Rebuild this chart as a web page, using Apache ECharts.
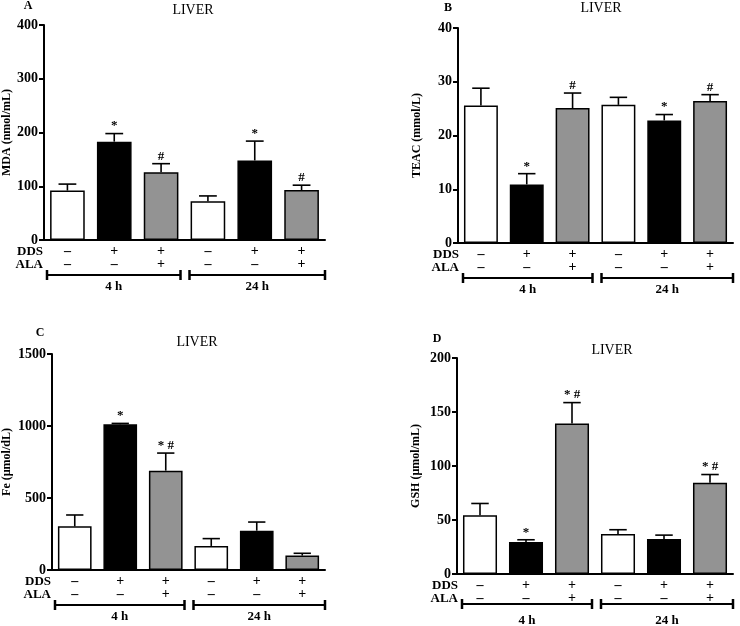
<!DOCTYPE html>
<html>
<head>
<meta charset="utf-8">
<script src="https://cdn.jsdelivr.net/npm/echarts@6/dist/echarts.min.js"></script>
<style>
html, body { margin: 0; padding: 0; background: #fff; }
#main { width: 740px; height: 626px; }
</style>
</head>
<body>
<div id="main"></div>
<script>
// treatment rows under each bar
var dds = ['–', '+', '+', '–', '+', '+'];
var ala = ['–', '–', '+', '–', '–', '+'];
var groups = ['4 h', '24 h'];
var fills = ['#ffffff', '#000000', '#939393', '#ffffff', '#000000', '#939393'];

// A: MDA
var mdaMean = [92, 183, 126, 72, 148, 93];
var mdaTop = [104, 198, 142, 82, 184, 102];
var mdaSig = ['', '*', '#', '', '*', '#'];
var mdaTicks = [0, 100, 200, 300, 400];
// B: TEAC
var teacMean = [25.6, 10.9, 25.1, 25.7, 22.8, 26.4];
var teacTop = [28.8, 12.9, 27.9, 27.1, 23.9, 27.6];
var teacSig = ['', '*', '#', '', '*', '#'];
var teacTicks = [0, 10, 20, 30, 40];
// C: Fe
var feMean = [303, 1012, 690, 167, 273, 100];
var feTop = [382, 1018, 812, 218, 333, 116];
var feSig = ['', '*', '* #', '', '', ''];
var feTicks = [0, 500, 1000, 1500];
// D: GSH
var gshMean = [54.5, 29.6, 139.3, 37, 32.4, 84.4];
var gshTop = [65.3, 31.7, 158.7, 41, 36, 92.1];
var gshSig = ['', '*', '* #', '', '', '* #'];
var gshTicks = [0, 50, 100, 150, 200];

var FONT = '"Liberation Serif", "DejaVu Serif", serif';

var panels = [
  {letter: 'A', name: 'MDA (nmol/mL)', mean: mdaMean, top: mdaTop, sig: mdaSig, ticks: mdaTicks,
   left: 42, y: 25, w: 283, h: 215, nameGap: 31, titleX: 193, titleY: 10, letterX: 28, letterY: 6, br: 35, tick: 14},
  {letter: 'B', name: 'TEAC (mmol/L)', mean: teacMean, top: teacTop, sig: teacSig, ticks: teacTicks,
   left: 458, y: 28, w: 275, h: 215, nameGap: 35, titleX: 601, titleY: 8, letterX: 448, letterY: 8, br: 35, tick: 14},
  {letter: 'C', name: 'Fe (µmol/dL)', mean: feMean, top: feTop, sig: feSig, ticks: feTicks,
   left: 50, y: 354, w: 275, h: 216, nameGap: 39, titleX: 197, titleY: 342, letterX: 40, letterY: 333, br: 35, tick: 14},
  {letter: 'D', name: 'GSH (µmol/mL)', mean: gshMean, top: gshTop, sig: gshSig, ticks: gshTicks,
   left: 457, y: 358, w: 276, h: 216, nameGap: 35, titleX: 612, titleY: 350, letterX: 437, letterY: 339, br: 30, tick: 14}
];

var cats = dds.map(function (d, i) { return d + '\n' + ala[i]; });

function errRender(sig) {
  return function (params, api) {
    var x = api.value(0);
    var base = api.coord([x, api.value(1)]);
    var end = api.coord([x, api.value(2)]);
    var half = api.size([1, 0])[0] * 0.19;
    var kids = [
      {type: 'line', shape: {x1: base[0], y1: base[1], x2: end[0], y2: end[1]}, style: {stroke: '#000', lineWidth: 1.6}},
      {type: 'line', shape: {x1: end[0] - half, y1: end[1], x2: end[0] + half, y2: end[1]}, style: {stroke: '#000', lineWidth: 1.6}}
    ];
    var s = sig[params.dataIndex];
    if (s) {
      kids.push({type: 'text', x: end[0], y: end[1] - 1,
        style: {text: s, align: 'center', verticalAlign: 'bottom', font: 'bold 13px ' + FONT, fill: '#000'}});
    }
    return {type: 'group', children: kids};
  };
}

var grid = [], xAxis = [], yAxis = [], series = [], graphic = [];

panels.forEach(function (p, k) {
  var t = p.ticks;
  grid.push({left: p.left, top: p.y, width: p.w, height: p.h});
  xAxis.push({
    type: 'category', gridIndex: k, data: cats,
    axisLine: {lineStyle: {color: '#000', width: 2}},
    axisTick: {show: false},
    axisLabel: {color: '#000', fontFamily: FONT, fontWeight: 'bold', fontSize: 14, lineHeight: 13, margin: 5, interval: 0}
  });
  yAxis.push({
    type: 'value', gridIndex: k, min: t[0], max: t[t.length - 1], interval: t[1] - t[0],
    name: p.name, nameLocation: 'middle', nameGap: p.nameGap,
    nameTextStyle: {color: '#000', fontFamily: FONT, fontWeight: 'bold', fontSize: 12},
    axisLine: {show: true, lineStyle: {color: '#000', width: 2}},
    axisTick: {show: true, length: 5, lineStyle: {color: '#000', width: 2}},
    axisLabel: {color: '#000', fontFamily: FONT, fontWeight: 'bold', fontSize: p.tick, margin: 6,
      formatter: function (v) { return String(v); }},
    splitLine: {show: false}
  });
  series.push({
    type: 'bar', xAxisIndex: k, yAxisIndex: k, barCategoryGap: '26%',
    data: p.mean.map(function (v, i) {
      return {value: v, itemStyle: {color: fills[i], borderColor: '#000', borderWidth: 1.5}};
    }),
    z: 2
  });
  series.push({
    type: 'custom', xAxisIndex: k, yAxisIndex: k,
    renderItem: errRender(p.sig),
    data: p.mean.map(function (v, i) { return [i, v, p.top[i]]; }),
    z: 3
  });

  // panel letter and title
  graphic.push({type: 'text', x: p.letterX, y: p.letterY,
    style: {text: p.letter, font: 'bold 12px ' + FONT, fill: '#000', align: 'center', verticalAlign: 'middle'}});
  graphic.push({type: 'text', x: p.titleX, y: p.titleY,
    style: {text: 'LIVER', font: '14px ' + FONT, fill: '#000', align: 'center', verticalAlign: 'middle'}});

  // row labels
  var base = p.y + p.h;
  graphic.push({type: 'text', x: p.left + 1, y: base + 12,
    style: {text: 'DDS', font: 'bold 13px ' + FONT, fill: '#000', align: 'right', verticalAlign: 'middle'}});
  graphic.push({type: 'text', x: p.left + 1, y: base + 25,
    style: {text: 'ALA', font: 'bold 13px ' + FONT, fill: '#000', align: 'right', verticalAlign: 'middle'}});

  // time brackets
  var yb = base + p.br;
  var spans = [[p.left + 5, p.left + p.w / 2 - 3], [p.left + p.w / 2 + 6, p.left + p.w]];
  spans.forEach(function (s, j) {
    graphic.push({type: 'line', shape: {x1: s[0], y1: yb, x2: s[1], y2: yb}, style: {stroke: '#000', lineWidth: 2}});
    graphic.push({type: 'line', shape: {x1: s[0], y1: yb - 5, x2: s[0], y2: yb + 5}, style: {stroke: '#000', lineWidth: 2.5}});
    graphic.push({type: 'line', shape: {x1: s[1], y1: yb - 5, x2: s[1], y2: yb + 5}, style: {stroke: '#000', lineWidth: 2.5}});
    graphic.push({type: 'text', x: (s[0] + s[1]) / 2, y: base + 47,
      style: {text: groups[j], font: 'bold 13px ' + FONT, fill: '#000', align: 'center', verticalAlign: 'middle'}});
  });
});

var chart = echarts.init(document.getElementById('main'), null, {renderer: 'canvas'});
chart.setOption({
  animation: false,
  backgroundColor: '#fff',
  grid: grid,
  xAxis: xAxis,
  yAxis: yAxis,
  series: series,
  graphic: graphic
});
</script>
</body>
</html>
